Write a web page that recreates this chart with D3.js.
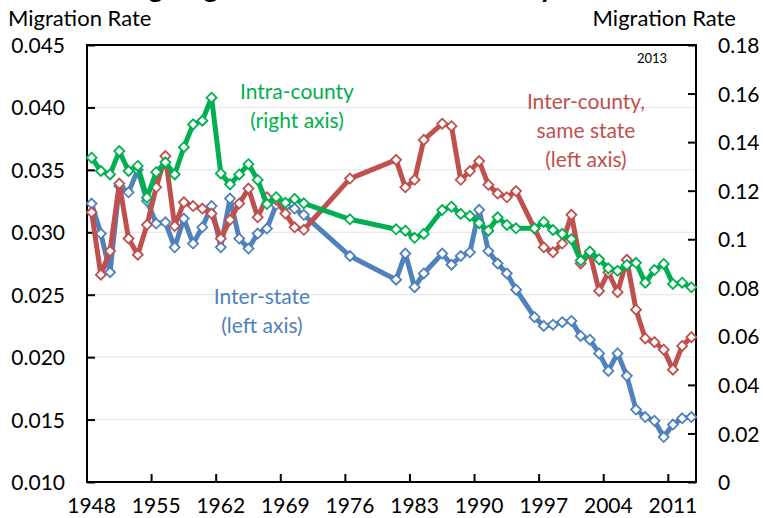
<!DOCTYPE html>
<html>
<head>
<meta charset="utf-8">
<script src="https://cdn.jsdelivr.net/npm/d3@7"></script>
<style>
  body { margin: 0; background: #fff; }
  svg text { font-family: Lato, 'Liberation Sans', sans-serif; fill: #000; }
</style>
</head>
<body>
<svg id="chart" width="763" height="518"></svg>
<script>
// years 1948-2013, null where no survey value (1972-75, 1977-80, 1985, 1995)
const years = d3.range(1948, 2014)

const inter_state = [
  0.0323, 0.0299, 0.0268, 0.0337, 0.0332, 0.0350, 0.0325, 0.0307, 0.0308, 0.0288,
  0.0311, 0.0291, 0.0304, 0.0321, 0.0288, 0.0327, 0.0295, 0.0287, 0.0299, 0.0303,
  0.0322, 0.0321, 0.0319, 0.0314, null, null, null, null, 0.0281, null,
  null, null, null, 0.0262, 0.0283, 0.0256, 0.0267, null, 0.0283, 0.0274,
  0.0281, 0.0284, 0.0318, 0.0285, 0.0275, 0.0267, 0.0254, null, 0.0232, 0.0225,
  0.0226, 0.0228, 0.0229, 0.0217, 0.0214, 0.0203, 0.0189, 0.0203, 0.0185, 0.0158,
  0.0152, 0.0149, 0.0136, 0.0146, 0.0151, 0.0152
]

const inter_county = [
  0.0316, 0.0266, 0.0285, 0.0339, 0.0295, 0.0282, 0.0306, 0.0336, 0.0361, 0.0305,
  0.0324, 0.0321, 0.0319, 0.0315, 0.0295, 0.0310, 0.0323, 0.0335, 0.0312, 0.0328,
  0.0326, 0.0315, 0.0304, 0.0302, null, null, null, null, 0.0343, null,
  null, null, null, 0.0358, 0.0336, 0.0342, 0.0374, null, 0.0387, 0.0385,
  0.0342, 0.0349, 0.0357, 0.0338, 0.0331, 0.0328, 0.0333, null, 0.0303, 0.0288,
  0.0284, 0.0291, 0.0314, 0.0275, 0.0283, 0.0253, 0.0268, 0.0252, 0.0278, 0.0238,
  0.0215, 0.0212, 0.0206, 0.0190, 0.0209, 0.0216
]

const intra_county = [
  0.1336, 0.1281, 0.1267, 0.1363, 0.1281, 0.1302, 0.1171, 0.1276, 0.1317, 0.1267,
  0.1379, 0.1473, 0.1488, 0.1583, 0.1271, 0.1226, 0.1267, 0.1309, 0.1244, 0.1145,
  0.1173, 0.1150, 0.1166, 0.1148, null, null, null, null, 0.1082, null,
  null, null, null, 0.1041, 0.1035, 0.1006, 0.1022, null, 0.1120, 0.1134,
  0.1104, 0.1096, 0.1066, 0.1035, 0.1090, 0.1059, 0.1045, null, 0.1045, 0.1071,
  0.1038, 0.1022, 0.1000, 0.0912, 0.0949, 0.0917, 0.0880, 0.0870, 0.0894, 0.0903,
  0.0821, 0.0873, 0.0898, 0.0816, 0.0821, 0.0802
]

const left_ticks = [0.010, 0.015, 0.020, 0.025, 0.030, 0.035, 0.040, 0.045]
const right_ticks = [0, 0.02, 0.04, 0.06, 0.08, 0.1, 0.12, 0.14, 0.16, 0.18]
const x_labels = [1948, 1955, 1962, 1969, 1976, 1983, 1990, 1997, 2004, 2011]

const svg = d3.select('#chart')

const x = d3.scaleBand().domain(years).range([87, 696])
const cx = yr => x(yr) + x.bandwidth() / 2
const y_left = d3.scaleLinear().domain([0.010, 0.045]).range([482, 45])
const y_right = d3.scaleLinear().domain([0, 0.18]).range([482, 45])

// title, mostly cut off at the top of the picture
svg.append('text')
  .attr('x', 300).attr('y', -3)
  .attr('text-anchor', 'middle')
  .style('font-size', '28px').style('font-weight', 'bold')
  .text('Declining Migration Rates in the Country')

// gridlines
svg.append('g').selectAll('line')
  .data(left_ticks.slice(1, -1))
  .enter().append('line')
    .attr('x1', 87).attr('x2', 696)
    .attr('y1', d => y_left(d)).attr('y2', d => y_left(d))
    .attr('stroke', '#e4e4e4').attr('stroke-width', 1)

// axes
const left_axis = svg.append('g')
  .attr('transform', 'translate(87,0)')
  .call(d3.axisLeft(y_left).tickValues(left_ticks).tickSize(-8).tickPadding(22)
    .tickFormat(d3.format('.3f')))
const right_axis = svg.append('g')
  .attr('transform', 'translate(696,0)')
  .call(d3.axisRight(y_right).tickValues(right_ticks).tickSize(-8).tickPadding(22)
    .tickFormat(d => String(+d.toFixed(2))))
const bottom_axis = svg.append('g')
  .attr('transform', 'translate(0,482)')
  .call(d3.axisBottom(x).tickValues(x_labels).tickSize(0).tickPadding(16))

for (const g of [left_axis, right_axis, bottom_axis]) {
  g.select('.domain').remove()
  g.selectAll('.tick line').attr('stroke', '#000').attr('stroke-width', 2)
  g.selectAll('.tick text').style('font-size', '21px').attr('fill', '#000')
}
left_axis.selectAll('.tick text').attr('dy', '0.36em')
right_axis.selectAll('.tick text').attr('dy', '0.36em')
bottom_axis.selectAll('.tick text').attr('dy', '0.71em')

// category ticks sit on the band edges
svg.append('g').selectAll('line')
  .data(x_labels.slice(1))
  .enter().append('line')
    .attr('x1', d => x(d)).attr('x2', d => x(d))
    .attr('y1', 482).attr('y2', 474)
    .attr('stroke', '#000').attr('stroke-width', 2)

// frame
svg.append('rect')
  .attr('x', 87).attr('y', 45).attr('width', 609).attr('height', 437)
  .attr('fill', 'none').attr('stroke', '#000').attr('stroke-width', 2)

svg.append('text').attr('x', 8).attr('y', 26).style('font-size', '22px').text('Migration Rate')
svg.append('text').attr('x', 736).attr('y', 26).attr('text-anchor', 'end')
  .style('font-size', '22px').text('Migration Rate')
svg.append('text').attr('x', 652).attr('y', 63).attr('text-anchor', 'middle')
  .style('font-size', '13px').text('2013')

const diamond = 'M0,-5L5,0L0,5L-5,0Z'

function draw_series(values, scale, color) {
  const pts = years.map((yr, i) => ({ yr, v: values[i] })).filter(p => p.v != null)
  const line = d3.line().x(p => cx(p.yr)).y(p => scale(p.v))
  const g = svg.append('g')
  g.append('path')
    .datum(pts)
    .attr('d', line)
    .attr('fill', 'none')
    .attr('stroke', color)
    .attr('stroke-width', 5)
    .attr('stroke-linejoin', 'round')
  g.selectAll('.marker')
    .data(pts)
    .enter().append('path')
      .attr('class', 'marker')
      .attr('d', diamond)
      .attr('transform', p => `translate(${cx(p.yr)},${scale(p.v)})`)
      .attr('fill', '#fff')
      .attr('stroke', color)
      .attr('stroke-width', 1.8)
}

draw_series(inter_state, y_left, '#4F81BD')
draw_series(inter_county, y_left, '#C0504D')
draw_series(intra_county, y_right, '#00B050')

function label(lines, cx_, cy_, color) {
  svg.append('g').selectAll('text')
    .data(lines)
    .enter().append('text')
      .attr('x', cx_)
      .attr('y', (d, i) => cy_ + i * 29)
      .attr('text-anchor', 'middle')
      .attr('dy', '0.36em')
      .style('font-size', '21px')
      .style('fill', color)
      .text(d => d)
}

label(['Intra-county', '(right axis)'], 297, 91, '#00B050')
label(['Inter-county,', 'same state', '(left axis)'], 586, 101, '#C0504D')
label(['Inter-state', '(left axis)'], 262, 296, '#4F81BD')
</script>
</body>
</html>
